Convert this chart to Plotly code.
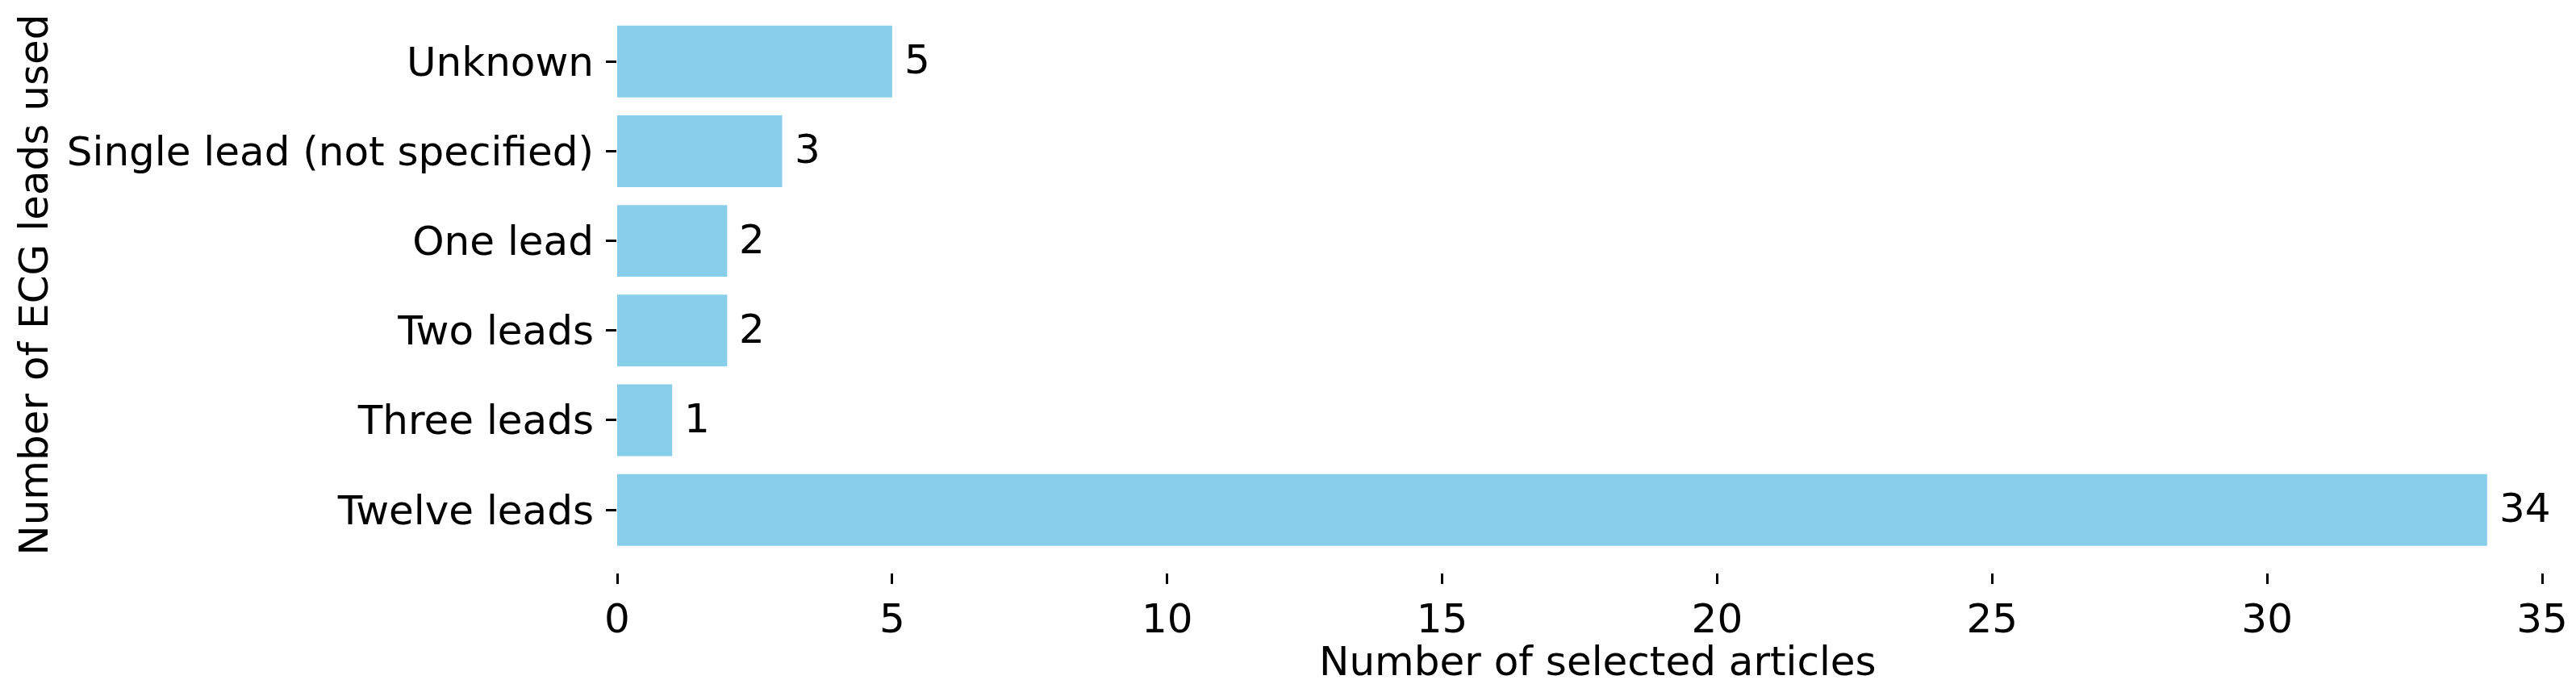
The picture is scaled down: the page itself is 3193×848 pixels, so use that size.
import plotly.graph_objects as go

categories = ["Twelve leads", "Three leads", "Two leads", "One lead",
              "Single lead (not specified)", "Unknown"]
counts = [34, 1, 2, 2, 3, 5]
x_ticks = [0, 5, 10, 15, 20, 25, 30, 35]
x_title = "Number of selected articles"
y_title = "Number of ECG leads used"

FONT = "DejaVu Sans"
BAR_COLOR = "#87CEEB"
positions = list(range(len(categories)))

fig = go.Figure()
fig.add_trace(go.Bar(
    x=counts, y=positions, orientation="h", width=0.8,
    marker=dict(color=BAR_COLOR, line=dict(width=0)),
    hoverinfo="skip", showlegend=False,
))

for xv, yv in zip(counts, positions):
    fig.add_annotation(x=xv, y=yv, text=str(xv), showarrow=False,
                       xanchor="left", yanchor="middle", xshift=13, yshift=2,
                       font=dict(family=FONT, size=50, color="black"))

# axis titles
fig.add_annotation(xref="paper", yref="paper", x=0.5093, y=0, yshift=-110,
                   xanchor="center", yanchor="middle", showarrow=False,
                   text=x_title, font=dict(family=FONT, size=50, color="black"))
fig.add_annotation(xref="paper", yref="paper", x=0, y=0.5075, xshift=-723,
                   xanchor="center", yanchor="middle", showarrow=False,
                   textangle=-90,
                   text=y_title, font=dict(family=FONT, size=50, color="black"))

fig.update_layout(
    width=3193, height=848,
    margin=dict(l=757, r=50, t=0, b=146),
    paper_bgcolor="white", plot_bgcolor="white",
    font=dict(family=FONT, size=50, color="black"),
)
fig.update_xaxes(
    range=[0, 35], tickvals=x_ticks, ticktext=[str(t) for t in x_ticks],
    ticks="outside", ticklen=13, tickwidth=2.5, tickcolor="black",
    showgrid=False, zeroline=False, showline=False,
    tickfont=dict(family=FONT, size=50, color="black"),
)
fig.update_yaxes(
    range=[-0.70, 5.614], tickvals=positions, ticktext=categories,
    ticks="outside", ticklen=13, tickwidth=2.5, tickcolor="black",
    ticklabelstandoff=5,
    showgrid=False, zeroline=False, showline=False,
    tickfont=dict(family=FONT, size=50, color="black"),
)

fig.write_html("out.html")
